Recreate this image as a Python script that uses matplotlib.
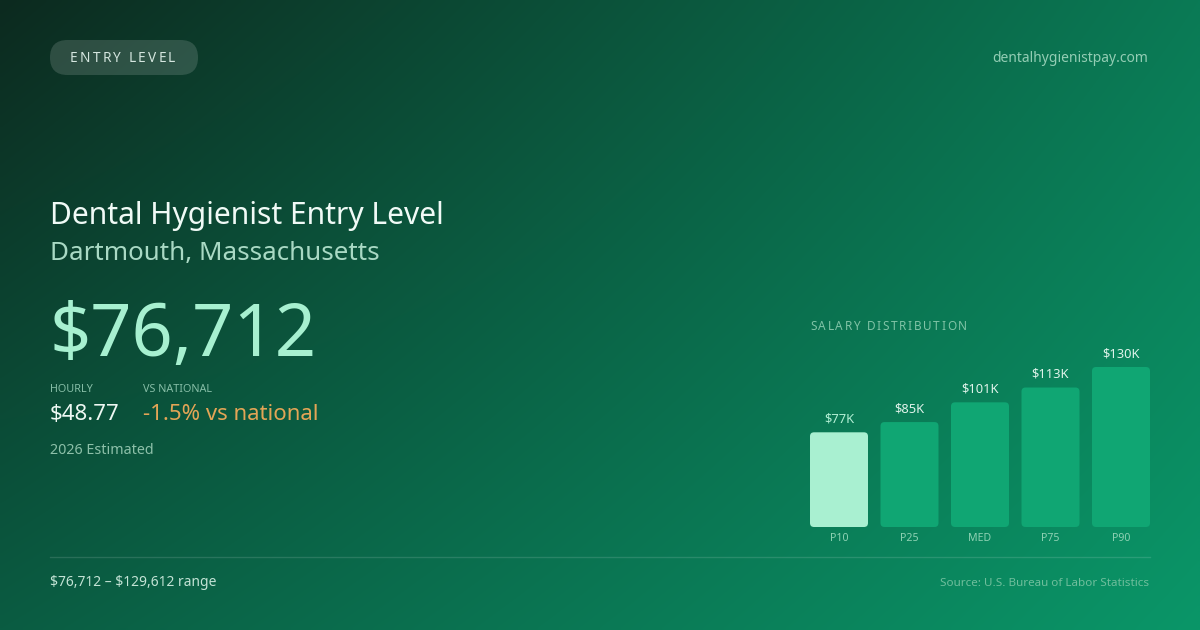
import numpy as np
import matplotlib
matplotlib.use("Agg")
import matplotlib.pyplot as plt
from matplotlib.patches import FancyBboxPatch

plt.rcParams['font.family'] = ['Noto Sans', 'DejaVu Sans']
plt.rcParams['text.parse_math'] = False

# ---- data ----
categories = ["P10", "P25", "MED", "P75", "P90"]
salaries = [76712, 85000, 101000, 113000, 129612]
value_labels = ["$77K", "$85K", "$101K", "$113K", "$130K"]
badge_text = "ENTRY LEVEL"
site = "dentalhygienistpay.com"
title = "Dental Hygienist Entry Level"
subtitle = "Dartmouth, Massachusetts"
headline = "$76,712"
hourly_label, hourly_value = "HOURLY", "$48.77"
vs_label, vs_value = "VS NATIONAL", "-1.5% vs national"
estimate_note = "2026 Estimated"
range_text = "$76,712 – $129,612 range"
source_text = "Source: U.S. Bureau of Labor Statistics"
chart_title = "SALARY DISTRIBUTION"

W, H = 1200, 630
fig = plt.figure(figsize=(12, 6.3), dpi=100)

# ---- background gradient ----
bg = fig.add_axes([0, 0, 1, 1])
bg.set_xlim(0, W)
bg.set_ylim(H, 0)
bg.axis("off")
tl = np.array([13, 42, 31]) / 255
tr = np.array([10, 122, 85]) / 255
bl = np.array([10, 92, 66]) / 255
br = np.array([10, 150, 104]) / 255
xs = np.linspace(0, 1, 300)[None, :, None]
ys = np.linspace(0, 1, 160)[:, None, None]
img = (tl * (1 - xs) * (1 - ys) + tr * xs * (1 - ys) + bl * (1 - xs) * ys + br * xs * ys)
bg.imshow(np.clip(img, 0, 1), extent=[0, W, H, 0], aspect="auto", interpolation="bilinear", zorder=0)

renderer = fig.canvas.get_renderer()

def spaced_text(ax, x, y, s, spacing, **kw):
    cx = x
    for ch in s:
        t = ax.text(cx, y, ch, **kw)
        w = t.get_window_extent(renderer).width
        if ch == " ":
            w = kw.get("fontsize", 10) * 100 / 72 * 0.26
        cx += w + spacing
    return cx

# badge
pill = FancyBboxPatch((50, 40), 148, 35, boxstyle="round,pad=0,rounding_size=17.5",
                      facecolor=(1, 1, 1, 0.14), edgecolor="none", zorder=2)
bg.add_patch(pill)
spaced_text(bg, 70, 58, badge_text, 2.2, fontsize=9.8, color="#d5e6df",
            va="center", ha="left", zorder=3)

bg.text(1148, 58, site, fontsize=10, color="#93cdb4", ha="right", va="center")

bg.text(49.5, 224, title, fontsize=21.6, color="#f0faf6", ha="left", va="baseline")
bg.text(49.5, 260, subtitle, fontsize=18.7, color="#a9d9c4", ha="left", va="baseline")
bg.text(50, 356, headline, fontsize=52, color="#a7f0d0", ha="left", va="baseline")

bg.text(50, 391.5, hourly_label, fontsize=7.8, color="#86bda6", ha="left", va="baseline")
bg.text(143, 391.5, vs_label, fontsize=7.8, color="#86bda6", ha="left", va="baseline")
bg.text(50, 420.5, hourly_value, fontsize=16.0, color="#eef8f3", ha="left", va="baseline")
bg.text(143, 420.5, vs_value, fontsize=16.0, color="#e3a556", ha="left", va="baseline")
bg.text(50, 454, estimate_note, fontsize=10.3, color="#8dc0a9", ha="left", va="baseline")

spaced_text(bg, 810, 330, chart_title, 1.7, fontsize=8.5, color="#80c3a6",
            ha="left", va="baseline")

bg.plot([50, 1150], [556.5, 556.5], color=(1, 1, 1, 0.13), lw=1)
bg.text(50, 586, range_text, fontsize=10.0, color="#c3e3d5", ha="left", va="baseline")
bg.text(1149, 586, source_text, fontsize=8.4, color="#6fbe9c", ha="right", va="baseline")

# ---- bar chart ----
n = len(categories)
step = 70.5
bw = 58 / step
x0 = 810
left_u = -bw / 2
right_u = (n - 1) + bw / 2
px_w = (right_u - left_u) * step
top_px, bot_px = 367, 527
ax = fig.add_axes([x0 / W, (H - bot_px) / H, px_w / W, (bot_px - top_px) / H])
ax.set_xlim(left_u, right_u)
ax.set_ylim(0, max(salaries))
ax.axis("off")
ax.patch.set_alpha(0)

bars = ax.bar(range(n), salaries, width=bw)
colors = ["#a9f0d1"] + ["#10a673"] * (n - 1)
y_per_px = max(salaries) / (bot_px - top_px)
x_per_px = 1 / step
r_px = 4
for b, c in zip(bars, colors):
    b.set_visible(False)
    fb = FancyBboxPatch((b.get_x(), b.get_y()), b.get_width(), b.get_height(),
                        boxstyle=f"round,pad=0,rounding_size={r_px * x_per_px}",
                        mutation_aspect=y_per_px / x_per_px,
                        facecolor=c, edgecolor="none", clip_on=False)
    ax.add_patch(fb)

for i, (v, lab) in enumerate(zip(salaries, value_labels)):
    ax.annotate(lab, (i, v), xytext=(0, 9.5), textcoords="offset points",
                ha="center", va="center", fontsize=9.3,
                color="#b3f0d5" if i == 0 else "#dff3ea", annotation_clip=False)
    ax.annotate(categories[i], (i, 0), xytext=(0, -8.5), textcoords="offset points",
                ha="center", va="center", fontsize=7.6, color="#8fd2b4",
                annotation_clip=False)

fig.savefig("out.png", dpi=100)
